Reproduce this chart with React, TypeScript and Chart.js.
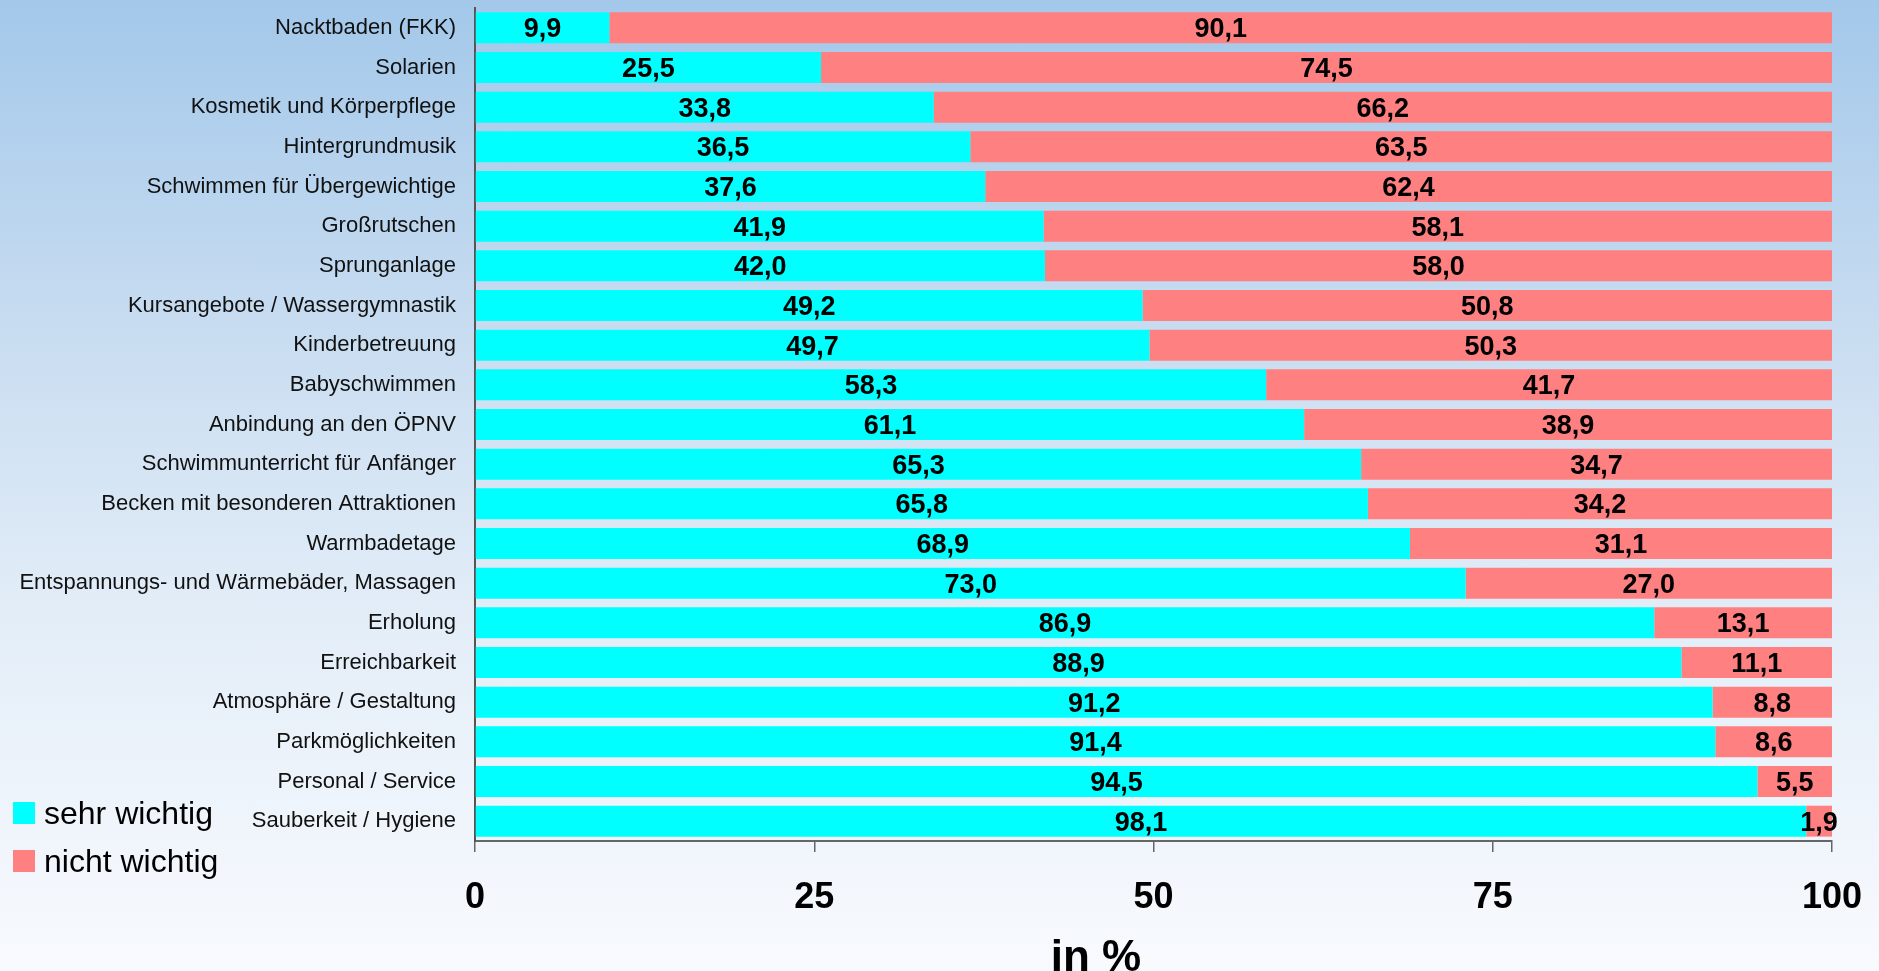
import React, { useEffect, useRef } from "react";
import { Chart, registerables } from "chart.js";

Chart.register(...registerables);

const categories = [
  "Nacktbaden (FKK)",
  "Solarien",
  "Kosmetik und Körperpflege",
  "Hintergrundmusik",
  "Schwimmen für Übergewichtige",
  "Großrutschen",
  "Sprunganlage",
  "Kursangebote / Wassergymnastik",
  "Kinderbetreuung",
  "Babyschwimmen",
  "Anbindung an den ÖPNV",
  "Schwimmunterricht für Anfänger",
  "Becken mit besonderen Attraktionen",
  "Warmbadetage",
  "Entspannungs- und Wärmebäder, Massagen",
  "Erholung",
  "Erreichbarkeit",
  "Atmosphäre / Gestaltung",
  "Parkmöglichkeiten",
  "Personal / Service",
  "Sauberkeit / Hygiene",
];

const sehrWichtig = [9.9, 25.5, 33.8, 36.5, 37.6, 41.9, 42.0, 49.2, 49.7, 58.3, 61.1, 65.3, 65.8, 68.9, 73.0, 86.9, 88.9, 91.2, 91.4, 94.5, 98.1];
const nichtWichtig = [90.1, 74.5, 66.2, 63.5, 62.4, 58.1, 58.0, 50.8, 50.3, 41.7, 38.9, 34.7, 34.2, 31.1, 27.0, 13.1, 11.1, 8.8, 8.6, 5.5, 1.9];

const seriesNames = ["sehr wichtig", "nicht wichtig"];
const seriesColors = ["#00FFFF", "#FF8080"];
const xTicks = [0, 25, 50, 75, 100];
const axisTitle = "in %";

const W = 1879;
const H = 971;
const FONT = "'Liberation Sans', Arial, Helvetica, sans-serif";

const dataLabelPlugin = {
  id: "dataLabels",
  afterDatasetsDraw(chart: any) {
    const ctx = chart.ctx;
    ctx.save();
    ctx.font = `bold 27px ${FONT}`;
    ctx.fillStyle = "#000";
    ctx.textAlign = "center";
    ctx.textBaseline = "middle";
    chart.data.datasets.forEach((ds: any, di: number) => {
      const meta = chart.getDatasetMeta(di);
      meta.data.forEach((el: any, i: number) => {
        const v = ds.data[i];
        const props = el.getProps(["x", "y", "base"], true);
        const cx = (props.x + props.base) / 2;
        ctx.fillText(v.toFixed(1).replace(".", ","), cx, props.y + 2);
      });
    });
    ctx.restore();
  },
};

const axisTitlePlugin = {
  id: "axisTitleCustom",
  afterDraw(chart: any) {
    const ctx = chart.ctx;
    ctx.save();
    ctx.font = `bold 44px ${FONT}`;
    ctx.fillStyle = "#000";
    ctx.textAlign = "center";
    ctx.textBaseline = "alphabetic";
    ctx.fillText(axisTitle, 1096, 971);
    ctx.restore();
  },
};

export default function App() {
  const ref = useRef<HTMLCanvasElement | null>(null);

  useEffect(() => {
    if (!ref.current) return;
    const chart = new Chart(ref.current, {
      type: "bar",
      data: {
        labels: categories,
        datasets: [
          {
            label: seriesNames[0],
            data: sehrWichtig,
            backgroundColor: seriesColors[0],
            borderWidth: 0,
            barPercentage: 0.78,
            categoryPercentage: 1,
          },
          {
            label: seriesNames[1],
            data: nichtWichtig,
            backgroundColor: seriesColors[1],
            borderWidth: 0,
            barPercentage: 0.78,
            categoryPercentage: 1,
          },
        ],
      },
      options: {
        indexAxis: "y",
        responsive: false,
        animation: false,
        devicePixelRatio: 1,
        layout: { padding: { top: 8, right: 47, left: 0, bottom: 0 } },
        plugins: {
          legend: { display: false },
          tooltip: { enabled: false },
          title: { display: false },
        },
        scales: {
          x: {
            stacked: true,
            min: 0,
            max: 100,
            afterBuildTicks: (scale: any) => {
              scale.ticks = xTicks.map((v) => ({ value: v }));
            },
            afterFit: (scale: any) => {
              scale.height = H - 841;
              scale.paddingLeft = 0;
              scale.paddingRight = 0;
              scale.paddingTop = 0;
              scale.paddingBottom = 0;
            },
            ticks: {
              color: "#000",
              font: { family: FONT, size: 36, weight: "bold" },
              padding: 24,
              maxRotation: 0,
              autoSkip: false,
            },
            grid: {
              display: true,
              drawOnChartArea: false,
              drawTicks: true,
              tickLength: 11,
              color: "#666",
              lineWidth: 1.5,
            },
            border: { display: true, color: "#666", width: 2 },
          },
          y: {
            stacked: true,
            afterFit: (scale: any) => {
              scale.width = 475;
              scale.paddingTop = 0;
              scale.paddingBottom = 0;
              scale.paddingLeft = 0;
              scale.paddingRight = 0;
            },
            ticks: {
              color: "#111",
              font: { family: FONT, size: 22 },
              padding: 19,
              autoSkip: false,
            },
            grid: { display: false, drawTicks: false },
            border: { display: true, color: "#555", width: 2 },
          },
        },
      },
      plugins: [dataLabelPlugin, axisTitlePlugin],
    });
    return () => chart.destroy();
  }, []);

  const legendRow = (name: string, color: string, top: number) => (
    <div
      key={name}
      style={{
        position: "absolute",
        left: 13,
        top,
        height: 48,
        display: "flex",
        alignItems: "center",
        fontFamily: FONT,
        fontSize: 32,
        color: "#000",
        whiteSpace: "nowrap",
      }}
    >
      <span style={{ display: "inline-block", width: 22, height: 22, background: color, marginRight: 9 }} />
      <span>{name}</span>
    </div>
  );

  return (
    <div
      style={{
        position: "fixed",
        left: 0,
        top: 0,
        width: W,
        height: H,
        overflow: "hidden",
        background: "linear-gradient(to bottom, #A3C8EA 0%, #C9DDF1 35%, #E4EEF8 65%, #F8FAFE 100%)",
      }}
    >
      <canvas ref={ref} width={W} height={H} style={{ position: "absolute", left: 0, top: 0, width: W, height: H }} />
      {legendRow(seriesNames[0], seriesColors[0], 789)}
      {legendRow(seriesNames[1], seriesColors[1], 837)}
    </div>
  );
}
